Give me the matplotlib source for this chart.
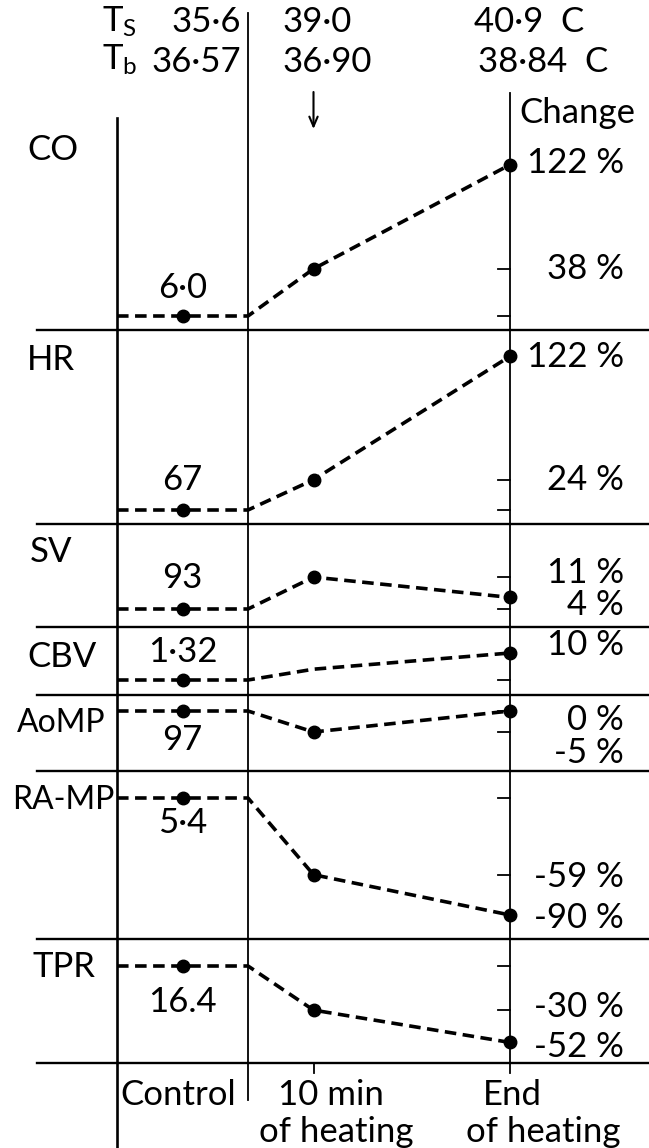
import matplotlib
matplotlib.use("Agg")
import matplotlib.pyplot as plt
import numpy as np

# data
params = ["CO", "HR", "SV", "CBV", "AoMP", "RA-MP", "TPR"]
control_values = ["6·0", "67", "93", "1·32", "97", "5·4", "16.4"]
change_10min = [38, 24, 11, 4, -5, -59, -30]     # % change after 10 min of heating
change_end = [122, 122, 4, 10, 0, -90, -52]      # % change at end of heating
marker_10min = [True, True, True, False, True, True, True]
stage_x = [0.5, 1.5, 3.0]                        # control, 10 min, end
stage_labels = [["Control"], ["10 min", "of heating"], ["End", "of heating"]]
skin_temp = ["35·6", "39·0", "40·9  C"]
body_temp = ["36·57", "36·90", "38·84  C"]

# layout (pixels of the 649x1148 picture)
W, H = 649, 1148
X0, XU = 117, 131            # pixel of column edge 0, pixels per x unit
panel_top = [93, 330, 524, 627, 695, 771, 939]
panel_bot = [330, 524, 627, 695, 771, 939, 1063]
zero_px = [316, 510, 609, 680, 711, 798, 966]
px_per_pct = [1.24, 1.26, 2.9, 2.7, 4.2, 1.3, 1.47]
name_y = [150, 360, 552, 657, 723, 800, 967]
name_x = [27, 27, 30, 27, 17, 12, 32]
ctrl_dy = [-28, -30, -31, -28, 29, 25, 36]
lab10_dy = [0, 0, -4, 0, 21, 2, -3]
labend_dy = [-2, 1, 8, -8, 9, 3, 5]
stage_label_x = [[178], [331, 336], [512, 543]]

FONT = "Lato"
FS = 25


def ux(px):
    return (px - X0) / XU


XMIN, XMAX = ux(0), ux(W)

plt.rcParams["font.family"] = FONT
plt.rcParams["mathtext.fontset"] = "custom"
plt.rcParams["mathtext.rm"] = FONT

fig = plt.figure(figsize=(W / 100, H / 100), dpi=100)
bg = fig.add_axes([0, 0, 1, 1])
bg.set_xlim(XMIN, XMAX)
bg.set_ylim(H, 0)
bg.axis("off")

txt = dict(fontsize=FS, color="k")

# frame lines
bg.plot([0, 0], [118, H], color="k", lw=1.9)
bg.plot([1, 1], [13, 1100], color="k", lw=1.3)
bg.plot([stage_x[2], stage_x[2]], [93, 1073], color="k", lw=1.3)
bg.plot([stage_x[1], stage_x[1]], [panel_bot[-1], 1073], color="k", lw=1.3)
for yb in panel_bot:
    bg.plot([ux(37), XMAX], [yb, yb], color="k", lw=1.7)

# temperature header
bg.text(ux(102), 22, r"$\mathregular{T_S}$", ha="left", va="center", **txt)
bg.text(ux(102), 60, r"$\mathregular{T_b}$", ha="left", va="center", **txt)
bg.text(ux(241), 22, skin_temp[0], ha="right", va="center", **txt)
bg.text(ux(241), 62, body_temp[0], ha="right", va="center", **txt)
bg.text(ux(282), 22, skin_temp[1], ha="left", va="center", **txt)
bg.text(ux(282), 62, body_temp[1], ha="left", va="center", **txt)
bg.text(ux(474), 22, skin_temp[2], ha="left", va="center", **txt)
bg.text(ux(478), 62, body_temp[2], ha="left", va="center", **txt)
bg.text(ux(519), 113, "Change", ha="left", va="center", **txt)
bg.annotate("", xy=(stage_x[1], 129), xytext=(stage_x[1], 92),
            arrowprops=dict(arrowstyle="->,head_length=0.7,head_width=0.3",
                            lw=1.5, color="k", shrinkA=0, shrinkB=0))

# stage labels under the chart
for xs, lines in zip(stage_label_x, stage_labels):
    for i, (xp, line) in enumerate(zip(xs, lines)):
        bg.text(ux(xp), 1095 + 37 * i, line, ha="center", va="center", **txt)

xr = ux(624)
for i, name in enumerate(params):
    top, bot = panel_top[i], panel_bot[i]
    ax = fig.add_axes([0, 1 - bot / H, 1, (bot - top) / H])
    ax.set_xlim(XMIN, XMAX)
    ax.set_ylim((zero_px[i] - bot) / px_per_pct[i], (zero_px[i] - top) / px_per_pct[i])
    ax.axis("off")
    ax.patch.set_visible(False)

    xs = np.array([0, stage_x[0], 1, stage_x[1], stage_x[2]])
    ys = np.array([0, 0, 0, change_10min[i], change_end[i]])
    ax.plot(xs, ys, color="k", lw=2.6, ls=(0, (3.2, 1.8)), dash_capstyle="butt")
    idx = [1, 3, 4] if marker_10min[i] else [1, 4]
    ax.plot(xs[idx], ys[idx], "o", color="k", ms=9)

    # small ticks on the right-hand line
    ticks = [0, change_10min[i]] if marker_10min[i] else [0]
    for t in ticks:
        ax.plot([stage_x[2] - 0.09, stage_x[2]], [t, t], color="k", lw=1.3)

    # labels
    bg.text(ux(name_x[i]), name_y[i], name, ha="left", va="center",
            fontsize=FS - (2 if len(name) > 3 else 0), color="k")
    ax.annotate(control_values[i], xy=(stage_x[0], 0), xytext=(0, -ctrl_dy[i] * 0.72),
                textcoords="offset points", ha="center", va="center", **txt)
    ax.annotate(f"{change_end[i]} %", xy=(xr, change_end[i]),
                xytext=(0, -labend_dy[i] * 0.72), textcoords="offset points",
                ha="right", va="center", **txt)
    if marker_10min[i]:
        ax.annotate(f"{change_10min[i]} %", xy=(xr, change_10min[i]),
                    xytext=(0, -lab10_dy[i] * 0.72), textcoords="offset points",
                    ha="right", va="center", **txt)

fig.savefig("out.png", dpi=100)
